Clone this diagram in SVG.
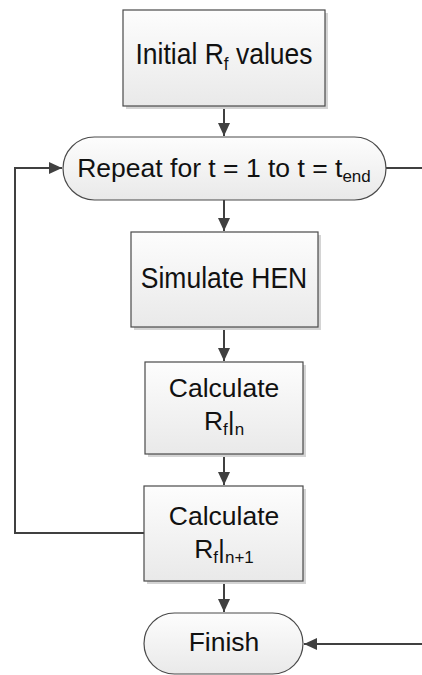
<svg xmlns="http://www.w3.org/2000/svg" width="422" height="675" viewBox="0 0 422 675">
  <defs>
    <linearGradient id="fill" x1="0" y1="0" x2="0" y2="1">
      <stop offset="0" stop-color="#fdfdfd"/>
      <stop offset="1" stop-color="#e9e9e9"/>
    </linearGradient>
    <marker id="arrow" markerWidth="14" markerHeight="14" refX="13" refY="7" orient="auto" markerUnits="userSpaceOnUse">
      <path d="M0,1 L13,7 L0,13 Z" fill="#404040"/>
    </marker>
    <style>
      .shadow { fill: #d4d4d4; }
      .node { fill: url(#fill); stroke: #4a4a4a; stroke-width: 1.2; }
      .label { font-family: "Liberation Sans", Arial, sans-serif; font-size: 26.5px; fill: #111; text-anchor: middle; }
      .sub { font-size: 17px; }
      .edge { fill: none; stroke: #404040; stroke-width: 2; }
    </style>
  </defs>

  <g id="connectors">
    <line class="edge" x1="224" y1="106" x2="224" y2="136" marker-end="url(#arrow)"/>
    <line class="edge" x1="224" y1="200" x2="224" y2="231" marker-end="url(#arrow)"/>
    <line class="edge" x1="224" y1="327" x2="224" y2="361" marker-end="url(#arrow)"/>
    <line class="edge" x1="224" y1="454" x2="224" y2="485" marker-end="url(#arrow)"/>
    <line class="edge" x1="224" y1="581" x2="224" y2="612" marker-end="url(#arrow)"/>
    <polyline class="edge" points="144,533 15,533 15,168 62,168" marker-end="url(#arrow)"/>
    <line class="edge" x1="386" y1="168" x2="422" y2="168"/>
    <line class="edge" x1="422" y1="644" x2="304" y2="644" marker-end="url(#arrow)"/>
  </g>

  <g id="initial">
    <rect class="shadow" x="126" y="13" width="202" height="96"/>
    <rect class="node" x="123" y="10" width="202" height="96"/>
    <text class="label" transform="translate(224,64) scale(1,1.12)">Initial R<tspan class="sub" dy="5">f</tspan><tspan dy="-5"> values</tspan></text>
  </g>

  <g id="repeat">
    <rect class="node" x="63" y="137" width="323" height="63" rx="31.5"/>
    <text class="label" x="224" y="177">Repeat for t = 1 to t = t<tspan class="sub" dy="5">end</tspan></text>
  </g>

  <g id="simulate">
    <rect class="shadow" x="134" y="235" width="187" height="95"/>
    <rect class="node" x="131" y="232" width="187" height="95"/>
    <text class="label" transform="translate(224,288) scale(1,1.12)">Simulate HEN</text>
  </g>

  <g id="calc-n">
    <rect class="shadow" x="148" y="365" width="158" height="92"/>
    <rect class="node" x="145" y="362" width="158" height="92"/>
    <text class="label" x="224" y="397">Calculate</text>
    <text class="label" x="224" y="430">R<tspan class="sub" dy="5">f</tspan><tspan dy="-5">|</tspan><tspan class="sub" dy="5">n</tspan></text>
  </g>

  <g id="calc-n1">
    <rect class="shadow" x="147" y="489" width="159" height="95"/>
    <rect class="node" x="144" y="486" width="159" height="95"/>
    <text class="label" x="224" y="525">Calculate</text>
    <text class="label" x="224" y="558">R<tspan class="sub" dy="5">f</tspan><tspan dy="-5">|</tspan><tspan class="sub" dy="5">n+1</tspan></text>
  </g>

  <g id="finish">
    <rect class="node" x="144" y="613" width="159" height="61" rx="30.5"/>
    <text class="label" x="224" y="651">Finish</text>
  </g>
</svg>
